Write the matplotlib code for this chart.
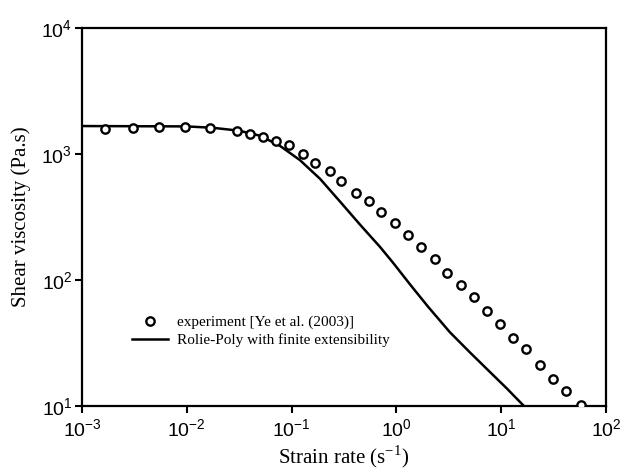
import matplotlib
matplotlib.use("Agg")
import matplotlib.pyplot as plt

plt.rcParams['font.family'] = ['Liberation Sans', 'DejaVu Sans']

# experimental data, Ye et al. (2003)
exp_rate = [0.00167, 0.00305, 0.00540, 0.00955, 0.0166, 0.0299, 0.0401, 0.0537,
            0.0710, 0.0938, 0.129, 0.167, 0.232, 0.298, 0.412, 0.545, 0.708,
            0.964, 1.29, 1.71, 2.32, 3.02, 4.11, 5.50, 7.36, 9.75, 13.1, 17.3,
            23.4, 31.4, 41.5, 57.4]
exp_visc = [1570, 1618, 1637, 1629, 1607, 1531, 1442, 1371, 1276, 1172, 1009,
            853, 736, 607, 493, 422, 347, 285, 226, 182, 147, 114, 90.8, 72.9,
            57.1, 45.0, 34.4, 28.1, 21.3, 16.3, 13.2, 10.2]

# Rolie-Poly model curve (finite extensibility)
model_rate = [0.001, 0.01, 0.0178, 0.0316, 0.0501, 0.0774, 0.120, 0.187,
              0.290, 0.450, 0.698, 0.933, 1.349, 1.995, 3.24, 5.04, 7.82,
              11.3, 16.3]
model_visc = [1667, 1656, 1614, 1531, 1396, 1161, 895, 635, 419, 275, 183,
              136.5, 92.3, 61.7, 38.5, 26.6, 18.6, 13.8, 10.1]

fig = plt.figure(figsize=(6.25, 4.73), dpi=100)
ax = fig.add_axes([0.1312, 0.1416, 0.8384, 0.7992])

ax.plot(exp_rate, exp_visc, 'o', mfc='white', mec='black', ms=6, mew=1.7,
        linestyle='none', label='experiment [Ye et al. (2003)]', zorder=3)
ax.plot(model_rate, model_visc, '-', color='black', lw=1.8,
        label='Rolie-Poly with finite extensibility')

ax.set_xscale('log')
ax.set_yscale('log')
ax.set_xlim(1e-3, 1e2)
ax.set_ylim(1e1, 1e4)
ax.minorticks_off()

for s in ax.spines.values():
    s.set_linewidth(1.6)
ax.tick_params(which='major', direction='out', length=5, width=1.5,
               labelsize=14, top=False, right=False)
ax.tick_params(axis='y', pad=2)
ax.tick_params(axis='x', pad=4)

ax.set_xlabel('Strain rate (s$^{\\mathdefault{-1}}$)', family='Liberation Serif',
              fontsize=15)
ax.set_ylabel('Shear viscosity (Pa.s)', family='Liberation Serif', fontsize=15)
ax.xaxis.set_label_coords(0.5, -0.100)
ax.yaxis.set_label_coords(-0.097, 0.5)

ax.legend(loc='lower left', bbox_to_anchor=(0.07, 0.12), frameon=False,
          prop={'family': 'Liberation Serif', 'size': 11},
          handlelength=2.3, handletextpad=0.6, labelspacing=0.25)

fig.savefig('out.png', dpi=100)
